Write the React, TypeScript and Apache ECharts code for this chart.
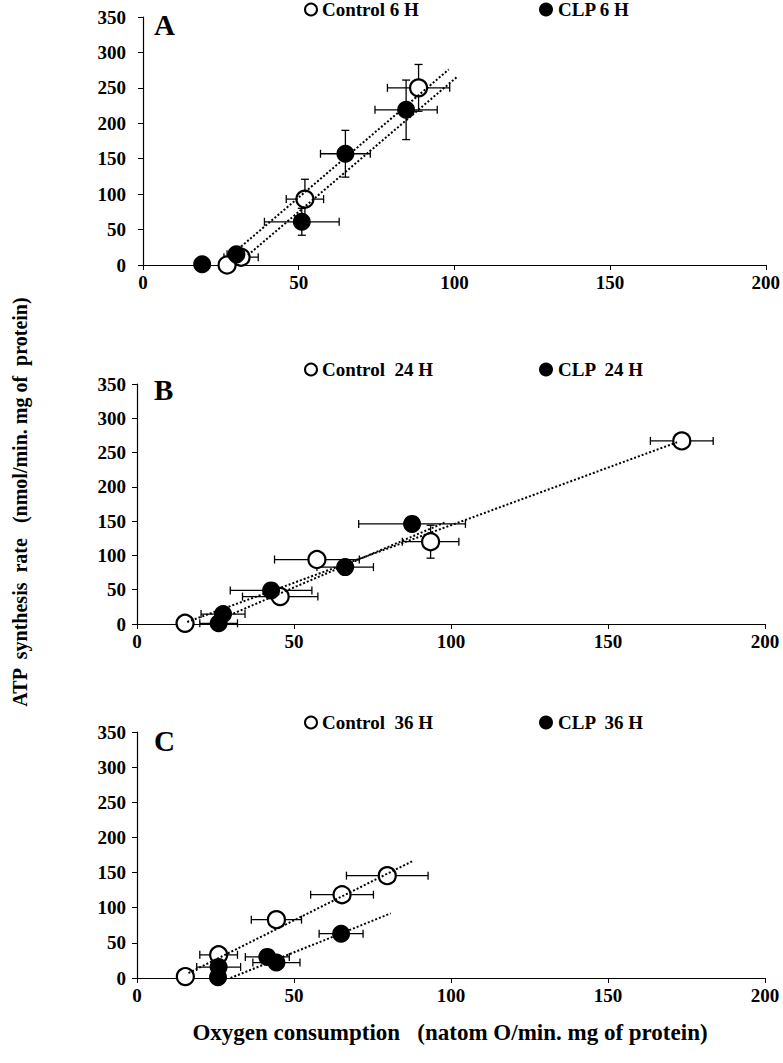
import React, { useEffect, useRef } from "react";
import * as echarts from "echarts";

// ---- Panel A (6 H) ----
const ctrlA_x = [27, 31.5, 52, 88.5];
const ctrlA_y = [0, 11, 93, 250];
const ctrlA_xe = [0, 5.5, 6, 10];
const ctrlA_ye = [0, 0, 28, 33];
const clpA_x = [19, 30, 51, 65, 84.5];
const clpA_y = [1, 15, 61, 157, 219];
const clpA_xe = [0, 3, 12, 8, 10];
const clpA_ye = [0, 0, 19, 33, 42];
const trendA_ctrl_x = [31.5, 98.2];
const trendA_ctrl_y = [26, 276];
const trendA_clp_x = [33.7, 101];
const trendA_clp_y = [14, 266];

// ---- Panel B (24 H) ----
const ctrlB_x = [15.3, 45.6, 57.3, 93.5, 173.5];
const ctrlB_y = [1, 40, 94, 120, 267];
const ctrlB_xe = [0, 12, 13.5, 9, 10];
const ctrlB_ye = [0, 0, 0, 24, 0];
const clpB_x = [26, 27.4, 42.7, 66.3, 87.6];
const clpB_y = [1, 14.5, 49, 83, 146];
const clpB_xe = [6, 7, 13, 9, 17];
const clpB_ye = [0, 0, 0, 0, 0];
const trendB_ctrl_x = [16, 172];
const trendB_ctrl_y = [3, 265];
const trendB_clp_x = [26, 98];
const trendB_clp_y = [6, 148];

// ---- Panel C (36 H) ----
const ctrlC_x = [15.4, 26, 44.4, 65.3, 79.7];
const ctrlC_y = [2, 33, 83, 118.5, 145.6];
const ctrlC_xe = [0, 6, 8, 10, 13];
const ctrlC_ye = [0, 0, 0, 0, 0];
const clpC_x = [25.8, 26, 41.5, 44.4, 65];
const clpC_y = [1, 15.6, 30, 22, 63];
const clpC_xe = [0, 7, 7, 7.5, 7];
const clpC_ye = [0, 0, 0, 0, 0];
const trendC_ctrl_x = [16.4, 87.6];
const trendC_ctrl_y = [7, 166];
const trendC_clp_x = [29.8, 80.8];
const trendC_clp_y = [0, 92];

const xTicks = { min: 0, max: 200, interval: 50 };
const yTicks = { min: 0, max: 350, interval: 50 };

const panelLetters = ["A", "B", "C"];
const ctrlNames = ["Control 6 H", "Control  24 H", "Control  36 H"];
const clpNames = ["CLP 6 H", "CLP  24 H", "CLP  36 H"];
const yTitle = "ATP  synthesis  rate   (nmol/min. mg of  protein)";
const xTitle = "Oxygen consumption   (natom O/min. mg of protein)";

const FONT = "'Liberation Serif', 'Times New Roman', serif";

const pts = (xs: number[], ys: number[]) => xs.map((x, i) => [x, ys[i]]);
const errs = (xs: number[], ys: number[], xe: number[], ye: number[]) =>
  xs.map((x, i) => [x, ys[i], xe[i], ye[i]]);

const panels = [
  {
    grid: { left: 143, top: 17, width: 625, height: 248 },
    ylabMargin: 17,
    letterY: 25,
    legendTop: 0,
    ctrl: { x: ctrlA_x, y: ctrlA_y, xe: ctrlA_xe, ye: ctrlA_ye },
    clp: { x: clpA_x, y: clpA_y, xe: clpA_xe, ye: clpA_ye },
    tc: [trendA_ctrl_x, trendA_ctrl_y],
    tl: [trendA_clp_x, trendA_clp_y],
  },
  {
    grid: { left: 137, top: 384, width: 628, height: 240 },
    ylabMargin: 11,
    letterY: 390,
    legendTop: 360,
    ctrl: { x: ctrlB_x, y: ctrlB_y, xe: ctrlB_xe, ye: ctrlB_ye },
    clp: { x: clpB_x, y: clpB_y, xe: clpB_xe, ye: clpB_ye },
    tc: [trendB_ctrl_x, trendB_ctrl_y],
    tl: [trendB_clp_x, trendB_clp_y],
  },
  {
    grid: { left: 137, top: 732, width: 628, height: 246 },
    ylabMargin: 11,
    letterY: 741,
    legendTop: 713,
    ctrl: { x: ctrlC_x, y: ctrlC_y, xe: ctrlC_xe, ye: ctrlC_ye },
    clp: { x: clpC_x, y: clpC_y, xe: clpC_xe, ye: clpC_ye },
    tc: [trendC_ctrl_x, trendC_ctrl_y],
    tl: [trendC_clp_x, trendC_clp_y],
  },
];

const errRender = (params: any, api: any) => {
  const x = api.value(0);
  const y = api.value(1);
  const xe = api.value(2);
  const ye = api.value(3);
  const cap = 4;
  const style = { stroke: "#000", lineWidth: 1.3 };
  const children: any[] = [];
  if (xe > 0) {
    const l = api.coord([x - xe, y]);
    const r = api.coord([x + xe, y]);
    children.push({ type: "line", shape: { x1: l[0], y1: l[1], x2: r[0], y2: r[1] }, style });
    children.push({ type: "line", shape: { x1: l[0], y1: l[1] - cap, x2: l[0], y2: l[1] + cap }, style });
    children.push({ type: "line", shape: { x1: r[0], y1: r[1] - cap, x2: r[0], y2: r[1] + cap }, style });
  }
  if (ye > 0) {
    const t = api.coord([x, y + ye]);
    const b = api.coord([x, y - ye]);
    children.push({ type: "line", shape: { x1: t[0], y1: t[1], x2: b[0], y2: b[1] }, style });
    children.push({ type: "line", shape: { x1: t[0] - cap, y1: t[1], x2: t[0] + cap, y2: t[1] }, style });
    children.push({ type: "line", shape: { x1: b[0] - cap, y1: b[1], x2: b[0] + cap, y2: b[1] }, style });
  }
  return { type: "group", children };
};

export default function App() {
  const ref = useRef<HTMLDivElement>(null);
  useEffect(() => {
    if (!ref.current) return;
    const chart = echarts.init(ref.current, null, { renderer: "svg" });
    const axisLabelStyle = { color: "#000", fontFamily: FONT, fontWeight: "bold", fontSize: 19 };
    const grids: any[] = [];
    const xAxes: any[] = [];
    const yAxes: any[] = [];
    const series: any[] = [];
    const legends: any[] = [];
    const graphics: any[] = [];
    panels.forEach((p, i) => {
      grids.push({ ...p.grid, containLabel: false });
      xAxes.push({
        type: "value", gridIndex: i, ...xTicks,
        axisLine: { show: true, lineStyle: { color: "#000", width: 1.2 } },
        axisTick: { show: true, length: 5, inside: false, lineStyle: { color: "#000" } },
        splitLine: { show: false },
        axisLabel: { ...axisLabelStyle, margin: 8 },
      });
      yAxes.push({
        type: "value", gridIndex: i, ...yTicks,
        axisLine: { show: true, lineStyle: { color: "#000", width: 1.2 } },
        axisTick: { show: true, length: 5, inside: false, lineStyle: { color: "#000" } },
        splitLine: { show: false },
        axisLabel: { ...axisLabelStyle, margin: p.ylabMargin },
      });
      // error bars
      series.push({
        type: "custom", xAxisIndex: i, yAxisIndex: i, z: 2, clip: false, silent: true,
        renderItem: errRender, data: errs(p.ctrl.x, p.ctrl.y, p.ctrl.xe, p.ctrl.ye),
      });
      series.push({
        type: "custom", xAxisIndex: i, yAxisIndex: i, z: 2, clip: false, silent: true,
        renderItem: errRender, data: errs(p.clp.x, p.clp.y, p.clp.xe, p.clp.ye),
      });
      // points
      series.push({
        name: ctrlNames[i], type: "scatter", xAxisIndex: i, yAxisIndex: i, z: 3,
        symbol: "circle", symbolSize: 17,
        itemStyle: { color: "#fff", borderColor: "#000", borderWidth: 2.2, opacity: 1 },
        data: pts(p.ctrl.x, p.ctrl.y),
      });
      series.push({
        name: clpNames[i], type: "scatter", xAxisIndex: i, yAxisIndex: i, z: 3,
        symbol: "circle", symbolSize: 18,
        itemStyle: { color: "#000", opacity: 1 },
        data: pts(p.clp.x, p.clp.y),
      });
      // trend lines
      [p.tc, p.tl].forEach((t) => {
        series.push({
          type: "line", xAxisIndex: i, yAxisIndex: i, z: 4, symbol: "none", silent: true,
          lineStyle: { color: "#000", width: 2, type: [2, 2] },
          data: pts(t[0], t[1]),
        });
      });
      const legendText = { color: "#000", fontFamily: FONT, fontWeight: "bold", fontSize: 19 };
      legends.push({
        data: [ctrlNames[i]], left: 304, top: p.legendTop, padding: 0, itemGap: 0,
        icon: "circle", itemWidth: 12, itemHeight: 12, textStyle: legendText,
        itemStyle: { color: "#fff", borderColor: "#000", borderWidth: 2 },
        selectedMode: false,
      });
      legends.push({
        data: [clpNames[i]], left: 539, top: p.legendTop, padding: 0, itemGap: 0,
        icon: "circle", itemWidth: 14, itemHeight: 14, textStyle: legendText,
        itemStyle: { color: "#000" },
        selectedMode: false,
      });
      graphics.push({
        type: "text", left: 154, top: p.letterY - 15,
        style: { text: panelLetters[i], fill: "#000", font: `bold 29px ${FONT}` },
      });
    });
    graphics.push({
      type: "text", x: 20, y: 502, rotation: Math.PI / 2,
      style: { text: yTitle, fill: "#000", font: `bold 20px ${FONT}`, textAlign: "center", textVerticalAlign: "middle" },
    });
    graphics.push({
      type: "text", x: 450, y: 1032,
      style: { text: xTitle, fill: "#000", font: `bold 23px ${FONT}`, textAlign: "center", textVerticalAlign: "middle" },
    });
    chart.setOption({
      animation: false,
      backgroundColor: "#fff",
      grid: grids,
      xAxis: xAxes,
      yAxis: yAxes,
      legend: legends,
      series,
      graphic: graphics,
    });
    return () => chart.dispose();
  }, []);
  return (
    <div
      ref={ref}
      style={{ position: "absolute", left: 0, top: 0, width: 783, height: 1063 }}
    />
  );
}
